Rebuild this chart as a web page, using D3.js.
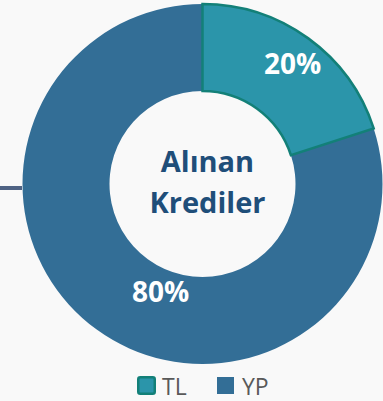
<!DOCTYPE html>
<html>
<head>
<meta charset="utf-8">
<script src="https://cdn.jsdelivr.net/npm/d3@7"></script>
<style>
  html, body { margin: 0; padding: 0; background: #f9f9f9; }
  svg { display: block; }
</style>
</head>
<body>
<svg id="chart" width="383" height="401"></svg>
<script>
// Loan currency split
const categories = ["TL", "YP"];
const values = [20, 80];
const colors = ["#2b95aa", "#336e96"];
const strokes = ["#138078", "none"];
const centerLines = ["Alınan", "Krediler"];

const svg = d3.select("#chart");
const W = 383, H = 401;
const cx = 202.5, cy = 184, rOuter = 180, rInner = 93;

svg.append("rect").attr("width", W).attr("height", H).attr("fill", "#f9f9f9");

// Connector stub on the left edge
svg.append("line")
  .attr("x1", 0).attr("x2", 22).attr("y1", 188).attr("y2", 188)
  .attr("stroke", "#4f6384").attr("stroke-width", 4);

const pie = d3.pie().sort(null).value(d => d)(values);
const arc = d3.arc().innerRadius(rInner).outerRadius(rOuter);

const g = svg.append("g").attr("transform", `translate(${cx},${cy})`);

// Draw the large slice first so the outlined one sits on top
const order = [1, 0];
g.selectAll("path.slice")
  .data(order.map(i => ({ p: pie[i], i })))
  .join("path")
  .attr("class", "slice")
  .attr("d", d => arc(d.p))
  .attr("fill", d => colors[d.i])
  .attr("stroke", d => strokes[d.i])
  .attr("stroke-width", 2.5)
  .attr("stroke-linejoin", "miter");

// Percent labels (alphabetic baseline)
const labelPos = [[90, -110], [-42, 118]];
g.selectAll("text.pct")
  .data(pie)
  .join("text")
  .attr("class", "pct")
  .attr("x", (d, i) => labelPos[i][0])
  .attr("y", (d, i) => labelPos[i][1])
  .attr("text-anchor", "middle")
  .attr("font-family", "Open Sans, sans-serif")
  .attr("font-weight", 700)
  .attr("font-size", 28)
  .attr("fill", "#ffffff")
  .text(d => d3.format(".0%")(d.value / d3.sum(values)));

// Centre title
g.selectAll("text.center")
  .data(centerLines)
  .join("text")
  .attr("class", "center")
  .attr("x", 5)
  .attr("y", (d, i) => -12 + i * 41)
  .attr("text-anchor", "middle")
  .attr("font-family", "Open Sans, sans-serif")
  .attr("font-weight", 700)
  .attr("font-size", 29)
  .attr("fill", "#1f4e79")
  .text(d => d);

// Legend
const legendX = [137, 217];
const legend = svg.selectAll("g.legend")
  .data(categories)
  .join("g")
  .attr("class", "legend")
  .attr("transform", (d, i) => `translate(${legendX[i]},376)`);

legend.append("rect")
  .attr("x", (d, i) => i === 0 ? 1.25 : 0)
  .attr("y", (d, i) => i === 0 ? 1.25 : 1)
  .attr("width", (d, i) => i === 0 ? 16.5 : 17)
  .attr("height", (d, i) => i === 0 ? 16.5 : 17)
  .attr("rx", (d, i) => i === 0 ? 2 : 0)
  .attr("fill", (d, i) => colors[i])
  .attr("stroke", (d, i) => strokes[i])
  .attr("stroke-width", 2.5);

legend.append("text")
  .attr("x", 25)
  .attr("y", 19)
  .attr("font-family", "Open Sans, sans-serif")
  .attr("font-size", 23)
  .attr("fill", "#595959")
  .text(d => d);
</script>
</body>
</html>
